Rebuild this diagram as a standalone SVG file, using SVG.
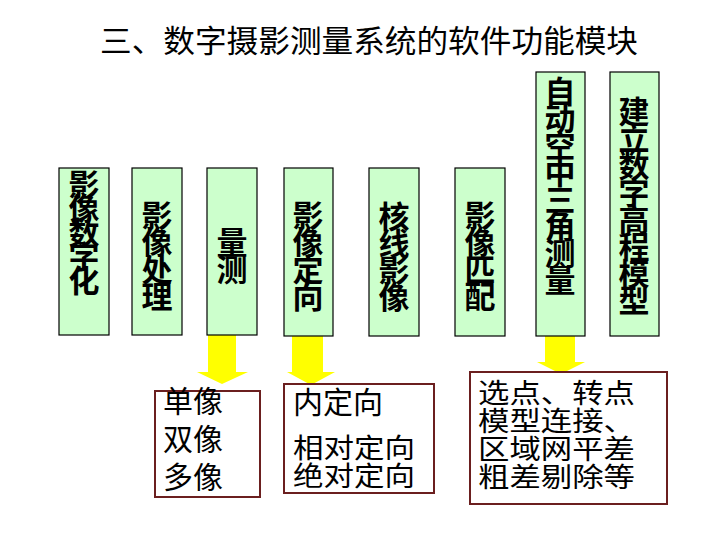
<svg xmlns="http://www.w3.org/2000/svg" width="720" height="540" viewBox="0 0 720 540">
<style>
.title{font-family:"Noto Sans CJK SC","Noto Sans CJK TC",sans-serif;font-size:31px;fill:#000}
.box{fill:#CCFFCC;stroke:#000;stroke-width:1.2}
.vt{font-family:"Noto Sans CJK SC",sans-serif;font-size:31px;font-weight:bold;fill:#000;writing-mode:vertical-rl;text-anchor:middle;letter-spacing:-4px}
.out{fill:#fff;stroke:#6B1F1F;stroke-width:2}
.lt{font-family:"Noto Sans CJK SC",sans-serif;font-size:30px;fill:#000}
.st{font-family:"Noto Sans CJK SC",sans-serif;font-size:27px;fill:#000}
.arrow{fill:#FFFF00}
</style>
<rect width="720" height="540" fill="#fff"/>
<text class="title" x="100" y="52" textLength="538" lengthAdjust="spacingAndGlyphs">三、数字摄影测量系统的软件功能模块</text>

<g id="connectors">
<polygon class="arrow" points="208,335 236,335 236,372 248,372 222,384 197,372 208,372"/>
<polygon class="arrow" points="292,336 323,336 323,372 335,372 311,385 287,372 292,372"/>
<polygon class="arrow" points="545,336 575,336 575,362 585,362 561,374 537,362 545,362"/>
</g>

<g id="n1"><rect class="box" x="59" y="168" width="50" height="167"/><text class="vt" x="84" y="229" style="letter-spacing:-7px">影像数字化</text></g>
<g id="n2"><rect class="box" x="132" y="168" width="50" height="167"/><text class="vt" x="157" y="254">影像处理</text></g>
<g id="n3"><rect class="box" x="207" y="168" width="50" height="167"/><text class="vt" x="232" y="254">量测</text></g>
<g id="n4"><rect class="box" x="284" y="168" width="49" height="168"/><text class="vt" x="308" y="254">影像定向</text></g>
<g id="n5"><rect class="box" x="369" y="168" width="50" height="168"/><text class="vt" x="394" y="255">核线影像</text></g>
<g id="n6"><rect class="box" x="455" y="168" width="50" height="168"/><text class="vt" x="480" y="254">影像匹配</text></g>
<g id="n7"><rect class="box" x="536" y="72" width="49" height="264"/><text class="vt" x="560" y="184">自动空中三角测量</text></g>
<g id="n8"><rect class="box" x="610" y="72" width="49" height="264"/><text class="vt" x="634" y="204">建立数字高程模型</text></g>

<g id="o1"><rect class="out" x="155" y="391" width="105" height="106"/>
<text class="lt"><tspan x="163" y="412">单像</tspan><tspan x="163" y="450">双像</tspan><tspan x="163" y="488">多像</tspan></text></g>

<g id="o2"><rect class="out" x="284" y="384" width="150" height="109"/>
<text class="lt" x="293" y="413">内定向</text>
<text class="st"><tspan x="293" y="458" textLength="122" lengthAdjust="spacingAndGlyphs">相对定向</tspan><tspan x="293" y="486" textLength="122" lengthAdjust="spacingAndGlyphs">绝对定向</tspan></text></g>

<g id="o3"><rect class="out" x="470" y="372" width="197" height="132"/>
<text class="st"><tspan x="478" y="403" textLength="157" lengthAdjust="spacingAndGlyphs">选点、转点</tspan><tspan x="478" y="431" textLength="157" lengthAdjust="spacingAndGlyphs">模型连接、</tspan><tspan x="478" y="459" textLength="157" lengthAdjust="spacingAndGlyphs">区域网平差</tspan><tspan x="478" y="487" textLength="157" lengthAdjust="spacingAndGlyphs">粗差剔除等</tspan></text></g>
</svg>
